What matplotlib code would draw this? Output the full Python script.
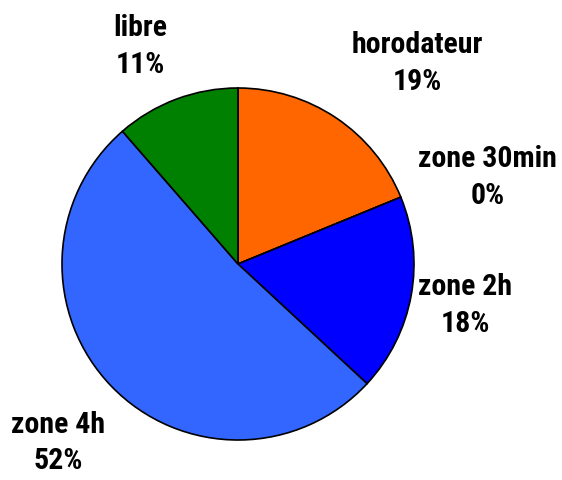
import matplotlib
matplotlib.use("Agg")
import matplotlib.pyplot as plt

categories = ["horodateur", "zone 30min", "zone 2h", "zone 4h", "libre"]
values = [18.8, 0.0, 18.1, 51.7, 11.4]
pct_labels = ["19%", "0%", "18%", "52%", "11%"]
colors = ["#FF6600", "#FFFF00", "#0000FF", "#3366FF", "#008000"]

# label centres (data units, pie radius = 1)
label_pos = {
    "horodateur": (1.017, 1.140),
    "zone 30min": (1.420, 0.490),
    "zone 2h": (1.290, -0.235),
    "zone 4h": (-1.023, -1.017),
    "libre": (-0.557, 1.236),
}

fig = plt.figure(figsize=(5.62, 4.80), dpi=100)
ax = fig.add_axes([0, 0, 1, 1])
ax.pie(values, colors=colors, startangle=90, counterclock=False,
       wedgeprops=dict(edgecolor="black", linewidth=1.2))
ax.set_xlim(-238 / 176, (562 - 238) / 176)
ax.set_ylim((264 - 480) / 176, 264 / 176)
ax.set_aspect("equal")
ax.axis("off")

for cat, pct in zip(categories, pct_labels):
    x, y = label_pos[cat]
    ax.text(x, y, f"{cat}\n{pct}", ha="center", va="center",
            fontsize=21.5, fontweight="bold", linespacing=1.4,
            family=["Roboto Condensed", "Liberation Sans", "DejaVu Sans"])

fig.savefig("out.png", dpi=100)
